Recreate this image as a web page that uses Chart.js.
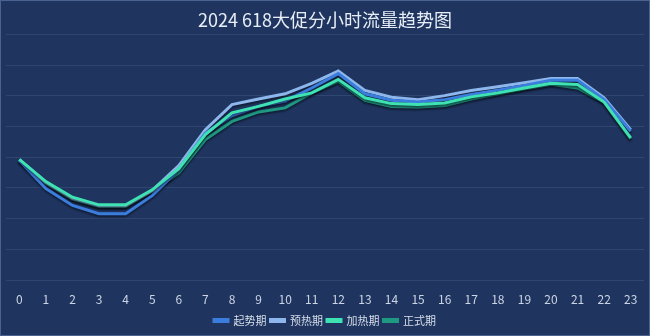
<!DOCTYPE html>
<html>
<head>
<meta charset="utf-8">
<script src="https://cdn.jsdelivr.net/npm/chart.js@4/dist/chart.umd.min.js"></script>
<style>
  html, body { margin: 0; padding: 0; background: #1f3560; }
  #wrap { width: 650px; height: 336px; position: relative; }
</style>
</head>
<body>
<div id="wrap"><canvas id="c" width="650" height="336"></canvas></div>
<script>
const hours = ['0','1','2','3','4','5','6','7','8','9','10','11','12','13','14','15','16','17','18','19','20','21','22','23'];
const seriesNames = ['起势期', '预热期', '加热期', '正式期'];
const qishi  = [3.90, 2.98, 2.43, 2.16, 2.16, 2.75, 3.60, 4.79, 5.36, 5.66, 5.83, 6.26, 6.73, 6.07, 5.86, 5.80, 5.88, 6.05, 6.19, 6.34, 6.51, 6.51, 5.88, 4.85];
const yure   = [3.92, 3.18, 2.66, 2.42, 2.42, 2.92, 3.73, 4.90, 5.72, 5.90, 6.07, 6.41, 6.81, 6.18, 5.96, 5.88, 6.01, 6.18, 6.30, 6.43, 6.57, 6.57, 5.94, 4.90];
const jiare  = [3.93, 3.21, 2.70, 2.45, 2.45, 2.94, 3.63, 4.74, 5.45, 5.66, 5.90, 6.10, 6.54, 5.94, 5.75, 5.72, 5.77, 5.97, 6.10, 6.26, 6.41, 6.37, 5.80, 4.63];
const zhengshi = [3.92, 3.15, 2.64, 2.40, 2.40, 2.90, 3.49, 4.58, 5.17, 5.48, 5.61, 6.10, 6.48, 5.86, 5.66, 5.64, 5.69, 5.90, 6.07, 6.23, 6.38, 6.26, 5.80, 4.60];

const bgPlugin = {
  id: 'bg',
  beforeDraw(chart) {
    const ctx = chart.ctx;
    ctx.save();
    ctx.fillStyle = '#1f3560';
    ctx.fillRect(0, 0, chart.width, chart.height);
    ctx.strokeStyle = '#4a6290';
    ctx.lineWidth = 1;
    ctx.strokeRect(0.5, 0.5, chart.width - 1, chart.height - 1);
    ctx.restore();
  }
};
const shadowPlugin = {
  id: 'lineShadow',
  beforeDatasetDraw(chart) {
    const ctx = chart.ctx;
    ctx.save();
    ctx.shadowColor = 'rgba(0,0,0,0.45)';
    ctx.shadowBlur = 2;
    ctx.shadowOffsetX = 0;
    ctx.shadowOffsetY = 2;
  },
  afterDatasetDraw(chart) {
    chart.ctx.restore();
  }
};

const colors = ['#3b7ddd', '#8db6ec', '#3fe2b2', '#1f9a82'];
const orders = [1, 2, 0, 3];
const dataArr = [qishi, yure, jiare, zhengshi];

new Chart(document.getElementById('c'), {
  type: 'line',
  data: {
    labels: hours,
    datasets: seriesNames.map((n, i) => ({
      label: n,
      data: dataArr[i],
      borderColor: colors[i],
      backgroundColor: colors[i],
      borderWidth: 3,
      pointRadius: 0,
      tension: 0,
      fill: false,
      order: orders[i]
    }))
  },
  options: {
    responsive: false,
    animation: false,
    devicePixelRatio: 1,
    layout: { padding: { left: 6, right: 6, top: 0, bottom: 0 } },
    plugins: {
      title: {
        display: true,
        text: '2024 618大促分小时流量趋势图',
        color: '#e8eef7',
        font: { family: '"Noto Sans CJK SC", "Noto Sans", sans-serif', size: 18, weight: 'normal' },
        padding: { top: 9, bottom: 4 }
      },
      legend: {
        position: 'bottom',
        labels: {
          color: '#d6deea',
          boxWidth: 14,
          boxHeight: 2,
          padding: 4,
          sort: (a, b) => a.datasetIndex - b.datasetIndex,
          font: { family: '"Noto Sans CJK SC", sans-serif', size: 11 }
        }
      },
      tooltip: { enabled: false }
    },
    scales: {
      x: {
        offset: true,
        grid: { display: false, drawTicks: false },
        border: { display: false },
        afterFit: (scale) => { scale.height = 31; },
        ticks: {
          color: '#ccd5e4',
          padding: 12,
          maxRotation: 0,
          autoSkip: false,
          font: { family: '"Noto Sans CJK SC", "Noto Sans", sans-serif', size: 12 }
        }
      },
      y: {
        min: 0,
        max: 8,
        ticks: { display: false, stepSize: 1 },
        grid: { color: '#2f4670', drawTicks: false, lineWidth: 1 },
        border: { display: false }
      }
    }
  },
  plugins: [bgPlugin, shadowPlugin]
});
</script>
</body>
</html>
